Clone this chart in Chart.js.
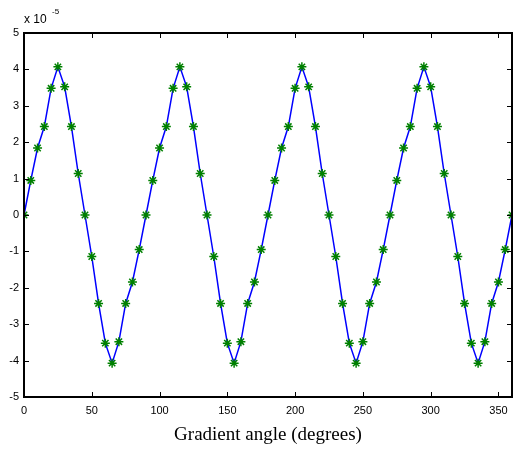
<!DOCTYPE html>
<html>
<head>
<meta charset="utf-8">
<title>Gradient angle</title>
<script src="https://cdn.jsdelivr.net/npm/chart.js"></script>
<style>
  body { margin: 0; padding: 0; background: #fff; }
  #wrap { width: 518px; height: 450px; position: relative; }
</style>
</head>
<body>
<div id="wrap"><canvas id="chart" width="518" height="450"></canvas></div>
<script>
// angles in degrees, every 5 deg
const angles = [
  0, 5, 10, 15, 20, 25, 30, 35, 40, 45, 50, 55, 60, 65, 70, 75, 80, 85,
  90, 95, 100, 105, 110, 115, 120, 125, 130, 135, 140, 145, 150, 155, 160, 165, 170, 175,
  180, 185, 190, 195, 200, 205, 210, 215, 220, 225, 230, 235, 240, 245, 250, 255, 260, 265,
  270, 275, 280, 285, 290, 295, 300, 305, 310, 315, 320, 325, 330, 335, 340, 345, 350, 355,
  360
];
// values in units of 1e-5
const values = [
  0, 0.95, 1.84, 2.43, 3.48, 4.07, 3.52, 2.43, 1.14, 0, -1.14, -2.43, -3.52, -4.07, -3.48, -2.43, -1.84, -0.95,
  0, 0.95, 1.84, 2.43, 3.48, 4.07, 3.52, 2.43, 1.14, 0, -1.14, -2.43, -3.52, -4.07, -3.48, -2.43, -1.84, -0.95,
  0, 0.95, 1.84, 2.43, 3.48, 4.07, 3.52, 2.43, 1.14, 0, -1.14, -2.43, -3.52, -4.07, -3.48, -2.43, -1.84, -0.95,
  0, 0.95, 1.84, 2.43, 3.48, 4.07, 3.52, 2.43, 1.14, 0, -1.14, -2.43, -3.52, -4.07, -3.48, -2.43, -1.84, -0.95,
  0
];
const xTicks = [0, 50, 100, 150, 200, 250, 300, 350];
const yTicks = [-5, -4, -3, -2, -1, 0, 1, 2, 3, 4, 5];
const xTitle = 'Gradient angle (degrees)';

// box + inward ticks on all sides, plus the exponent label
const matlabAxes = {
  id: 'matlabAxes',
  afterDraw(chart) {
    const ctx = chart.ctx;
    const a = chart.chartArea;
    const xs = chart.scales.x, ys = chart.scales.y;
    ctx.save();
    ctx.strokeStyle = '#000';
    ctx.lineWidth = 1;
    const tl = 5;
    ctx.beginPath();
    xTicks.forEach(v => {
      const px = Math.round(xs.getPixelForValue(v)) + 0.5;
      ctx.moveTo(px, a.bottom); ctx.lineTo(px, a.bottom - tl);
      ctx.moveTo(px, a.top); ctx.lineTo(px, a.top + tl);
    });
    yTicks.forEach(v => {
      const py = Math.round(ys.getPixelForValue(v)) + 0.5;
      ctx.moveTo(a.left, py); ctx.lineTo(a.left + tl, py);
      ctx.moveTo(a.right, py); ctx.lineTo(a.right - tl, py);
    });
    ctx.stroke();
    ctx.lineWidth = 2;
    ctx.strokeRect(a.left, a.top, a.right - a.left, a.bottom - a.top);
    ctx.fillStyle = '#000';
    ctx.textBaseline = 'alphabetic';
    ctx.font = '12px "Liberation Sans", Arial, sans-serif';
    ctx.fillText('x 10', 24, 23);
    ctx.font = '8px "Liberation Sans", Arial, sans-serif';
    ctx.fillText('-5', 52, 14);
    ctx.restore();
  }
};

new Chart(document.getElementById('chart').getContext('2d'), {
  type: 'line',
  data: {
    datasets: [{
      data: angles.map((a, i) => ({ x: a, y: values[i] })),
      borderColor: '#0000ff',
      borderWidth: 1.5,
      tension: 0,
      pointStyle: 'star',
      pointRadius: 4.5,
      pointBorderColor: '#008000',
      pointBackgroundColor: '#008000',
      pointBorderWidth: 1.5,
      fill: false
    }]
  },
  options: {
    responsive: false,
    animation: false,
    events: [],
    layout: { padding: { left: 0, right: 2, top: 33, bottom: 0 } },
    plugins: { legend: { display: false }, tooltip: { enabled: false } },
    scales: {
      x: {
        type: 'linear',
        min: 0, max: 360,
        afterFit(scale) { scale.height = 53; },
        afterBuildTicks(scale) { scale.ticks = xTicks.map(v => ({ value: v })); },
        grid: { display: false, drawTicks: false },
        border: { display: false },
        ticks: {
          color: '#000',
          padding: 7,
          maxRotation: 0,
          autoSkip: false,
          font: { family: '"Liberation Sans", Arial, sans-serif', size: 11 }
        },
        title: {
          display: true,
          text: xTitle,
          color: '#000',
          padding: { top: 9 },
          font: { family: '"Liberation Serif", "Times New Roman", serif', size: 19 }
        }
      },
      y: {
        type: 'linear',
        min: -5, max: 5,
        afterFit(scale) { scale.width = 24; },
        afterBuildTicks(scale) { scale.ticks = yTicks.map(v => ({ value: v })); },
        grid: { display: false, drawTicks: false },
        border: { display: false },
        ticks: {
          color: '#000',
          padding: 5,
          autoSkip: false,
          font: { family: '"Liberation Sans", Arial, sans-serif', size: 11 }
        }
      }
    }
  },
  plugins: [matlabAxes]
});
</script>
</body>
</html>
